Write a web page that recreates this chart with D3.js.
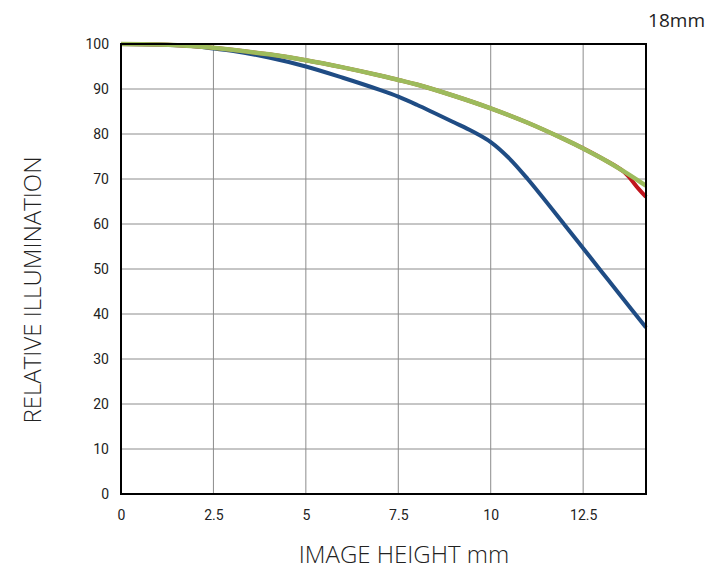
<!DOCTYPE html>
<html><head><meta charset="utf-8">
<script src="https://d3js.org/d3.v7.min.js"></script>
<style>body{margin:0;background:#fff;}</style>
</head><body>
<svg id="c" width="720" height="570"></svg>
<script>
const xTicks = [0, 2.5, 5, 7.5, 10, 12.5];
const yTicks = [0, 10, 20, 30, 40, 50, 60, 70, 80, 90, 100];
const blueX = [0, 1, 2, 2.5, 3, 4, 5, 6, 7, 7.5, 8, 9, 9.5, 10, 10.5, 11, 12, 12.5, 13, 13.5, 14.2];
const blueY = [100, 99.9, 99.5, 99, 98.5, 97, 95, 92.5, 89.8, 88.3, 86.5, 82.6, 80.6, 78.2, 74.6, 70, 59.8, 54.6, 49.4, 44.2, 37];
const greenX = [0, 1, 2, 3, 4, 5, 6, 7, 7.5, 8, 9, 10, 11, 12, 12.5, 13, 13.5, 14, 14.2];
const greenY = [100, 99.9, 99.5, 98.7, 97.7, 96.4, 94.8, 93, 92, 91, 88.5, 85.7, 82.5, 78.8, 76.8, 74.6, 72.2, 69.6, 68.5];
const redX = [0, 1, 2, 3, 4, 5, 6, 7, 7.5, 8, 9, 10, 11, 12, 12.5, 13, 13.6, 14, 14.2];
const redY = [100, 99.9, 99.5, 98.7, 97.7, 96.4, 94.8, 93, 92, 91, 88.5, 85.7, 82.5, 78.8, 76.8, 74.6, 71.6, 67.8, 66];

const svg = d3.select("#c");
const L = 121, R = 646, T = 44, B = 494;
const x = d3.scaleLinear().domain([0, 14.2]).range([L, R]);
const y = d3.scaleLinear().domain([0, 100]).range([B, T]);

svg.append("g").selectAll("line").data(xTicks.slice(1)).join("line")
  .attr("x1", d => x(d)).attr("x2", d => x(d)).attr("y1", T).attr("y2", B)
  .attr("stroke", "#8c8c8c").attr("stroke-width", 1);
svg.append("g").selectAll("line").data(yTicks.slice(1, -1)).join("line")
  .attr("x1", L).attr("x2", R).attr("y1", d => y(d)).attr("y2", d => y(d))
  .attr("stroke", "#8c8c8c").attr("stroke-width", 1);

const xAxis = svg.append("g").attr("transform", `translate(0,${B})`)
  .call(d3.axisBottom(x).tickValues(xTicks).tickSize(0).tickPadding(16).tickFormat(d => String(d)));
const yAxis = svg.append("g").attr("transform", `translate(${L},0)`)
  .call(d3.axisLeft(y).tickValues(yTicks).tickSize(0).tickPadding(12).tickFormat(d => String(d)));
[xAxis, yAxis].forEach(a => {
  a.select(".domain").remove();
  a.selectAll("text").attr("font-family", "Roboto, 'Noto Sans', sans-serif").attr("font-size", 14).attr("fill", "#222");
});

const line = (xs, ys) => d3.line().curve(d3.curveCatmullRom.alpha(0.5))(xs.map((v, i) => [x(v), y(ys[i])]));
svg.append("path").attr("d", line(blueX, blueY)).attr("fill", "none").attr("stroke", "#1f4c84").attr("stroke-width", 4);
svg.append("path").attr("d", line(redX, redY)).attr("fill", "none").attr("stroke", "#c0141c").attr("stroke-width", 4);
svg.append("path").attr("d", line(greenX, greenY)).attr("fill", "none").attr("stroke", "#9dbb5c").attr("stroke-width", 4.5);

svg.append("rect").attr("x", L).attr("y", T).attr("width", R - L).attr("height", B - T)
  .attr("fill", "none").attr("stroke", "#000").attr("stroke-width", 2);

svg.append("text").attr("x", 404).attr("y", 563).attr("text-anchor", "middle")
  .attr("font-family", "'Open Sans', 'Noto Sans', sans-serif").attr("font-weight", 300).attr("font-size", 24).attr("fill", "#222")
  .text("IMAGE HEIGHT mm");
svg.append("text").attr("transform", "translate(41,290) rotate(-90)").attr("text-anchor", "middle")
  .attr("font-family", "'Open Sans', 'Noto Sans', sans-serif").attr("font-weight", 300).attr("font-size", 24).attr("fill", "#222")
  .text("RELATIVE ILLUMINATION");
svg.append("text").attr("x", 705).attr("y", 27).attr("text-anchor", "end")
  .attr("font-family", "'Open Sans', 'Noto Sans', sans-serif").attr("font-size", 19).attr("fill", "#222")
  .text("18mm");
</script>
</body></html>
